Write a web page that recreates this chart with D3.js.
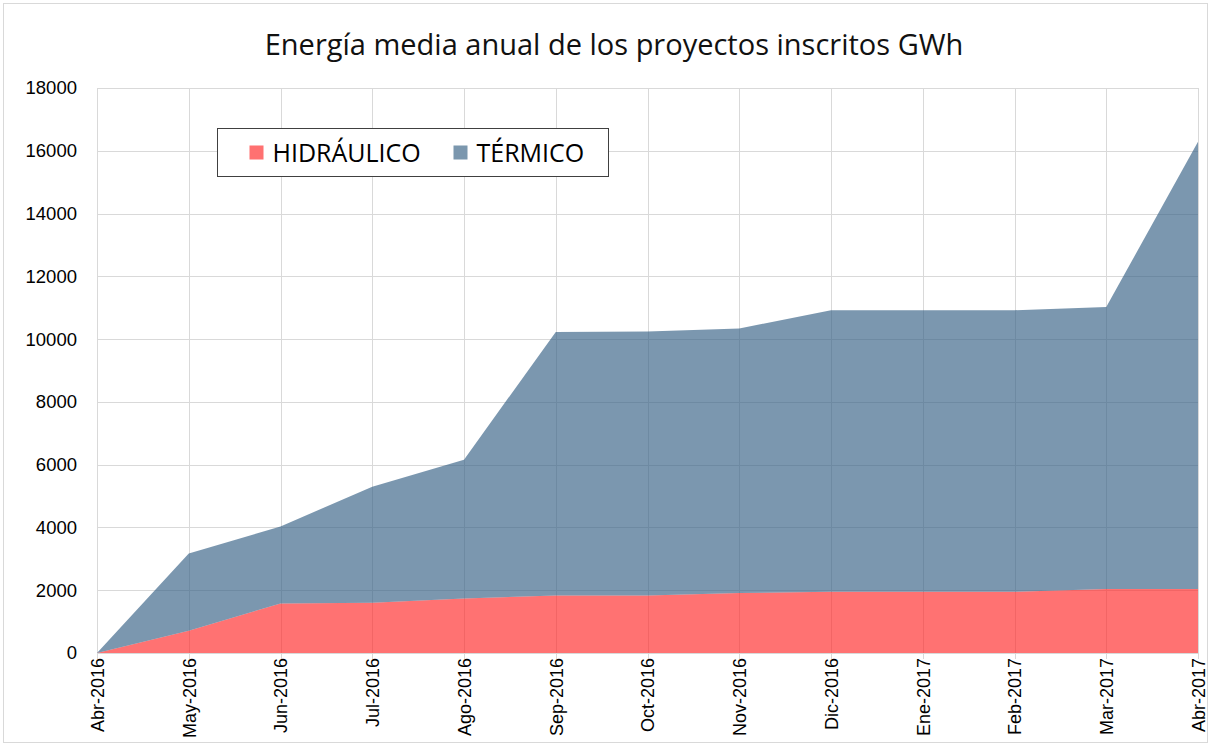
<!DOCTYPE html>
<html>
<head>
<meta charset="utf-8">
<script src="https://cdn.jsdelivr.net/npm/d3@7"></script>
<style>
  body { margin: 0; background: #fff; }
  svg { display: block; }
</style>
</head>
<body>
<div id="chart"></div>
<script>
// Energía media anual de los proyectos inscritos (GWh), área apilada

const months = [
  "Abr-2016", "May-2016", "Jun-2016", "Jul-2016", "Ago-2016", "Sep-2016",
  "Oct-2016", "Nov-2016", "Dic-2016", "Ene-2017", "Feb-2017", "Mar-2017", "Abr-2017"
];
const hidraulico = [0, 710, 1580, 1600, 1740, 1830, 1830, 1910, 1950, 1950, 1950, 2040, 2040];
const termico = [0, 2460, 2450, 3700, 4420, 8400, 8410, 8430, 8970, 8970, 8970, 8980, 14250];
const yTicks = [0, 2000, 4000, 6000, 8000, 10000, 12000, 14000, 16000, 18000];
const seriesNames = ["HIDRÁULICO", "TÉRMICO"];
const seriesColors = ["#ff2626", "#345f84"];
const legendColors = ["#ff7171", "#7b97ae"];

const W = 1211, H = 746;
const margin = { top: 88, right: 13, bottom: 93, left: 97 };
const width = W - margin.left - margin.right;
const height = H - margin.top - margin.bottom;

const svg = d3.select("#chart")
  .append("svg")
  .attr("width", W)
  .attr("height", H);

// outer frame
svg.append("rect")
  .attr("x", 3.5).attr("y", 3.5)
  .attr("width", W - 7).attr("height", H - 7)
  .attr("fill", "#fff")
  .attr("stroke", "#d9d9d9")
  .attr("stroke-width", 1);

svg.append("text")
  .attr("x", 614)
  .attr("y", 55)
  .attr("text-anchor", "middle")
  .style("font-family", "'Open Sans', sans-serif")
  .style("font-size", "29px")
  .style("fill", "#111")
  .text("Energía media anual de los proyectos inscritos GWh");

const chart = svg.append("g")
  .attr("transform", `translate(${margin.left},${margin.top})`);

const x = d3.scalePoint().domain(months).range([0, width]);
const y = d3.scaleLinear().domain([0, 18000]).range([height, 0]);

// grid
chart.append("g")
  .selectAll("line.h")
  .data(yTicks)
  .join("line")
  .attr("x1", 0).attr("x2", width)
  .attr("y1", (d) => Math.round(y(d)) + 0.5)
  .attr("y2", (d) => Math.round(y(d)) + 0.5)
  .attr("stroke", "#d9d9d9");

chart.append("g")
  .selectAll("line.v")
  .data(months)
  .join("line")
  .attr("x1", (d) => Math.round(x(d)) + 0.5)
  .attr("x2", (d) => Math.round(x(d)) + 0.5)
  .attr("y1", 0).attr("y2", height + 6)
  .attr("stroke", "#d9d9d9");

// stacked areas
const rows = months.map((m, i) => ({ month: m, h: hidraulico[i], t: termico[i] }));
const stacked = d3.stack().keys(["h", "t"])(rows);

const area = d3.area()
  .x((d) => x(d.data.month))
  .y0((d) => y(d[0]))
  .y1((d) => y(d[1]));

chart.append("g")
  .selectAll("path")
  .data(stacked)
  .join("path")
  .attr("d", area)
  .attr("fill", (d, i) => seriesColors[i])
  .attr("fill-opacity", 0.65);

// y axis labels
const yAxis = chart.append("g")
  .call(d3.axisLeft(y).tickValues(yTicks).tickSize(0).tickPadding(20).tickFormat(d3.format("d")));
yAxis.select(".domain").remove();
yAxis.selectAll(".tick text")
  .style("font-family", "'Liberation Sans', Arial, sans-serif")
  .style("font-size", "18.5px")
  .style("fill", "#000");

// x axis labels
const xAxis = chart.append("g")
  .attr("transform", `translate(0,${height})`)
  .call(d3.axisBottom(x).tickSize(0));
xAxis.select(".domain")
  .attr("stroke", "#d9d9d9");
xAxis.selectAll(".tick text")
  .attr("transform", "rotate(-90)")
  .attr("text-anchor", "end")
  .attr("x", -5)
  .attr("y", 0)
  .attr("dy", "0.35em")
  .style("font-family", "'Liberation Sans', Arial, sans-serif")
  .style("font-size", "18px")
  .style("fill", "#000");

// legend
const legend = svg.append("g").attr("transform", "translate(217.5,128.5)");
legend.append("rect")
  .attr("width", 391).attr("height", 48)
  .attr("fill", "#fff")
  .attr("stroke", "#404040");

const legendX = [32, 236];
seriesNames.forEach((name, i) => {
  const g = legend.append("g").attr("transform", `translate(${legendX[i]},0)`);
  g.append("rect")
    .attr("x", 0).attr("y", 17)
    .attr("width", 14).attr("height", 14)
    .attr("fill", legendColors[i]);
  g.append("text")
    .attr("x", 23).attr("y", 33)
    .style("font-family", "'Open Sans', sans-serif")
    .style("font-size", "25px")
    .style("fill", "#000")
    .text(name);
});
</script>
</body>
</html>
